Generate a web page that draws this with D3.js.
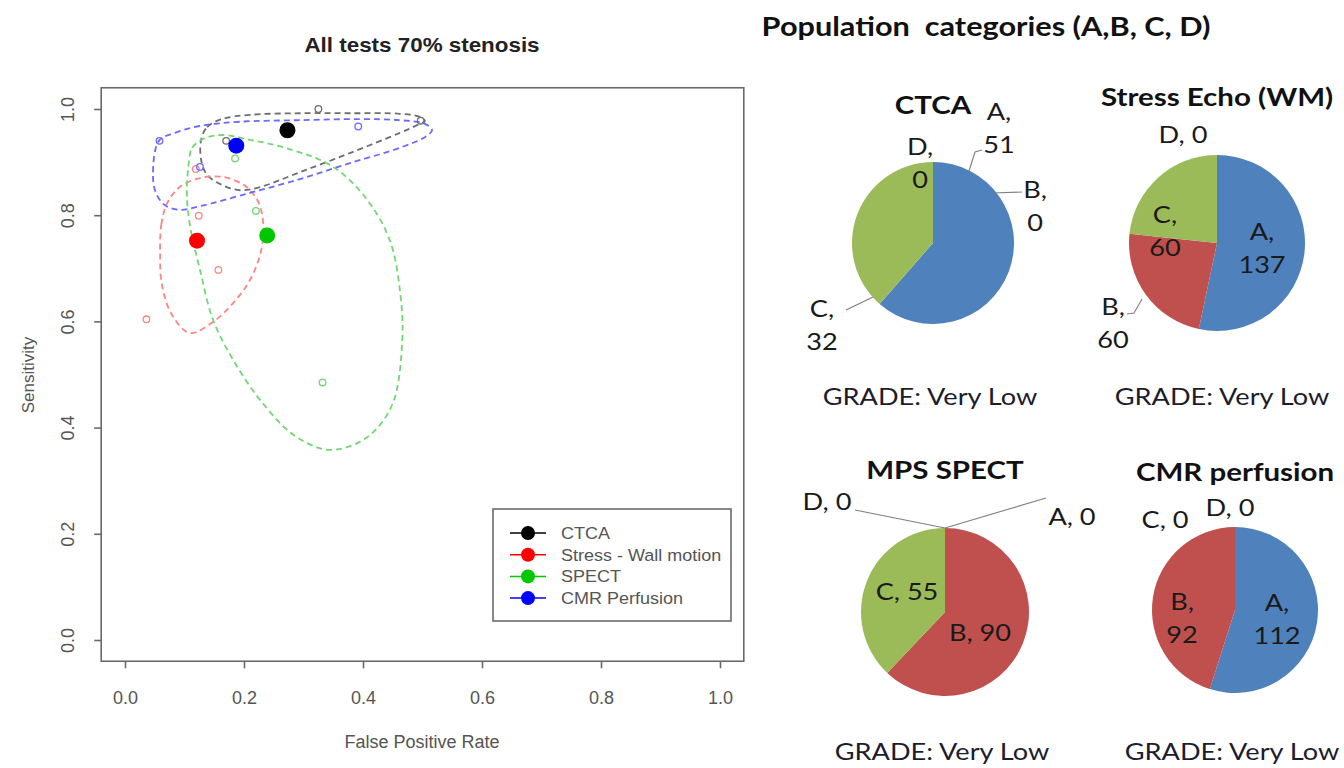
<!DOCTYPE html>
<html>
<head>
<meta charset="utf-8">
<script src="https://cdn.jsdelivr.net/npm/d3@7"></script>
<style>
  html, body { margin: 0; padding: 0; background: #fff; }
  svg { display: block; }
  text { white-space: pre; }
</style>
</head>
<body>
<svg id="chart" width="1344" height="768"></svg>
<script>
// ---------- ROC summary plot data ----------
const tests = ["CTCA", "Stress - Wall motion", "SPECT", "CMR Perfusion"];
const testColors = ["#000000", "#ff0000", "#00c800", "#0000ff"];
const regionColors = ["#6e6e6e", "#ff8585", "#72d872", "#6a6aff"];

// summary operating points (false positive rate, sensitivity)
const summaryFPR  = [0.273, 0.121, 0.239, 0.187];
const summarySens = [0.960, 0.752, 0.762, 0.931];

// individual studies
const studiesCTCA   = [[0.325, 1.000], [0.497, 0.978], [0.170, 0.940]];
const studiesStress = [[0.119, 0.887], [0.124, 0.799], [0.157, 0.697], [0.036, 0.604]];
const studiesSPECT  = [[0.185, 0.907], [0.220, 0.808], [0.332, 0.485]];
const studiesCMR    = [[0.058, 0.940], [0.392, 0.967], [0.126, 0.891]];

// 95% confidence regions
const regionCTCA = [[0.128,0.942],[0.138,0.966],[0.163,0.981],[0.210,0.989],[0.294,0.992],[0.378,0.992],
  [0.462,0.991],[0.496,0.985],[0.504,0.977],[0.492,0.970],[0.462,0.955],[0.378,0.917],[0.294,0.881],
  [0.227,0.853],[0.193,0.847],[0.163,0.857],[0.138,0.876],[0.128,0.904]];
const regionStress = [[0.059,0.729],[0.061,0.782],[0.071,0.823],[0.092,0.853],[0.126,0.870],[0.165,0.872],
  [0.202,0.855],[0.224,0.825],[0.232,0.787],[0.229,0.734],[0.210,0.678],[0.182,0.635],[0.148,0.599],
  [0.109,0.578],[0.079,0.612],[0.062,0.669]];
const regionSPECT = [[0.106,0.885],[0.113,0.927],[0.134,0.945],[0.163,0.951],[0.210,0.942],[0.269,0.927],
  [0.350,0.891],[0.407,0.829],[0.445,0.753],[0.462,0.659],[0.466,0.565],[0.449,0.443],[0.407,0.382],
  [0.345,0.358],[0.286,0.384],[0.230,0.448],[0.182,0.527],[0.148,0.603],[0.126,0.697],[0.109,0.782],
  [0.104,0.838]];
const regionCMR = [[0.057,0.940],[0.084,0.955],[0.126,0.968],[0.193,0.976],[0.294,0.979],[0.395,0.981],
  [0.462,0.979],[0.504,0.972],[0.516,0.960],[0.504,0.947],[0.462,0.927],[0.378,0.898],[0.294,0.868],
  [0.210,0.842],[0.126,0.817],[0.092,0.810],[0.067,0.819],[0.052,0.842],[0.047,0.876]];

const xTicks = [0, 0.2, 0.4, 0.6, 0.8, 1.0];
const xTickLabels = ["0.0", "0.2", "0.4", "0.6", "0.8", "1.0"];
const yTicks = [0, 0.2, 0.4, 0.6, 0.8, 1.0];
const yTickLabels = ["0.0", "0.2", "0.4", "0.6", "0.8", "1.0"];

// ---------- population category pies ----------
const categories = ["A", "B", "C", "D"];
const catColors = ["#4f81bd", "#c0504d", "#9bbb59", "#8064a2"];
const ctcaCounts   = [51, 0, 32, 0];
const stressCounts = [137, 60, 60, 0];
const spectCounts  = [0, 90, 55, 0];
const cmrCounts    = [112, 92, 0, 0];
const pieTitles = ["CTCA", "Stress Echo (WM)", "MPS SPECT", "CMR perfusion"];
const pieGrades = ["Very Low", "Very Low", "Very Low", "Very Low"];
const headline = "Population  categories (A,B, C, D)";

const svg = d3.select("#chart");
svg.append("rect").attr("width", 1344).attr("height", 768).attr("fill", "#fff");

// ================= left panel: ROC space =================
const rFont = "'Liberation Sans', Arial, Helvetica, sans-serif";
const xS = d3.scaleLinear().domain([0, 1]).range([125, 720]);
const yS = d3.scaleLinear().domain([0, 1]).range([640, 109]);
const plot = svg.append("g").attr("font-family", rFont);

const bx0 = xS(-0.04), bx1 = xS(1.04), by0 = yS(1.04), by1 = yS(-0.04);
plot.append("rect")
  .attr("x", bx0).attr("y", by0).attr("width", bx1 - bx0).attr("height", by1 - by0)
  .attr("fill", "none").attr("stroke", "#6a6a6a").attr("stroke-width", 1.6);

const xAxis = plot.append("g").attr("transform", `translate(0,${by1})`)
  .call(d3.axisBottom(xS).tickValues(xTicks).tickSize(7).tickPadding(23)
    .tickFormat((d, i) => xTickLabels[i]));
const yAxis = plot.append("g").attr("transform", `translate(${bx0},0)`)
  .call(d3.axisLeft(yS).tickValues(yTicks).tickSize(7)
    .tickFormat((d, i) => yTickLabels[i]));
[xAxis, yAxis].forEach(a => {
  a.select(".domain").remove();
  a.selectAll(".tick line").attr("stroke", "#6a6a6a").attr("stroke-width", 1.6);
  a.selectAll(".tick text").attr("fill", "#555").attr("font-size", 18).attr("font-family", rFont);
});
yAxis.selectAll(".tick text")
  .attr("transform", "rotate(-90)")
  .attr("x", 0).attr("y", -27).attr("dy", 0)
  .attr("text-anchor", "middle");

plot.append("text").attr("transform", "translate(422,52) scale(1.12,1)").attr("text-anchor", "middle")
  .attr("font-weight", "bold").attr("font-size", 20).attr("fill", "#222")
  .text("All tests 70% stenosis");
plot.append("text").attr("x", 422).attr("y", 748).attr("text-anchor", "middle")
  .attr("font-size", 18).attr("fill", "#555").text("False Positive Rate");
plot.append("text").attr("transform", "translate(34,375) rotate(-90)").attr("text-anchor", "middle")
  .attr("font-size", 17).attr("fill", "#555").text("Sensitivity");

// confidence regions
const regions = [regionCTCA, regionStress, regionSPECT, regionCMR];
const regionLine = d3.line().x(d => xS(d[0])).y(d => yS(d[1])).curve(d3.curveCatmullRomClosed.alpha(0.5));
plot.append("g").selectAll("path").data(regions).join("path")
  .attr("d", regionLine)
  .attr("fill", "none")
  .attr("stroke", (d, i) => regionColors[i])
  .attr("stroke-width", 1.8)
  .attr("stroke-dasharray", "6,4");

// study points
const studies = [studiesCTCA, studiesStress, studiesSPECT, studiesCMR];
studies.forEach((pts, i) => {
  plot.append("g").selectAll("circle").data(pts).join("circle")
    .attr("cx", d => xS(d[0])).attr("cy", d => yS(d[1])).attr("r", 3.3)
    .attr("fill", "none").attr("stroke", regionColors[i]).attr("stroke-width", 1.3);
});

// summary points
plot.append("g").selectAll("circle").data(tests).join("circle")
  .attr("cx", (d, i) => xS(summaryFPR[i])).attr("cy", (d, i) => yS(summarySens[i]))
  .attr("r", 8).attr("fill", (d, i) => testColors[i]);

// legend
const leg = plot.append("g");
leg.append("rect").attr("x", 493).attr("y", 509).attr("width", 238).attr("height", 112)
  .attr("fill", "#fff").attr("stroke", "#6a6a6a").attr("stroke-width", 1.6);
const legRows = leg.selectAll("g.row").data(tests).join("g")
  .attr("transform", (d, i) => `translate(0,${533 + i * 21.7})`);
legRows.append("line").attr("x1", 510).attr("x2", 546).attr("y1", 0).attr("y2", 0)
  .attr("stroke", (d, i) => testColors[i]).attr("stroke-width", 1.5);
legRows.append("circle").attr("cx", 528).attr("cy", 0).attr("r", 7)
  .attr("fill", (d, i) => testColors[i]);
legRows.append("text").attr("transform", "translate(561,6) scale(1.06,1)").attr("font-size", 17)
  .attr("fill", "#555").text(d => d);

// ================= right panel: category pies =================
const xlFont = "Lato, 'Open Sans', sans-serif";
const XS = 1.18; // horizontal text proportion of the office-style labels
const right = svg.append("g").attr("font-family", xlFont);

function xlText(parent, x, y, str, size, bold, fill) {
  return parent.append("text")
    .attr("transform", `translate(${x},${y}) scale(${XS},1)`)
    .attr("text-anchor", "middle")
    .attr("font-size", size)
    .attr("font-weight", bold ? "bold" : "normal")
    .attr("fill", fill)
    .text(str);
}

xlText(right, 986, 36, headline, 26, true, "#111");

const pies = [
  { counts: ctcaCounts, cx: 933, cy: 243, r: 81, titleY: 114, gradeX: 930, gradeY: 405,
    labels: [
      { cat: 0, split: true, dx: 66, dy: -131 },
      { cat: 1, split: true, dx: 102, dy: -53 },
      { cat: 2, split: true, dx: -111, dy: 66 },
      { cat: 3, split: true, dx: -13, dy: -96 }],
    leaders: [
      [[49, -93], [42, -91], [36, -72]],
      [[89, -51], [60, -50]],
      [[-87, 67], [-60, 54]]] },
  { counts: stressCounts, cx: 1217, cy: 243, r: 88, titleY: 106, gradeX: 1222, gradeY: 405,
    labels: [
      { cat: 0, split: true, dx: 45, dy: -11 },
      { cat: 1, split: true, dx: -104, dy: 64 },
      { cat: 2, split: true, dx: -52, dy: -28 },
      { cat: 3, split: false, dx: -34, dy: -108 }],
    leaders: [
      [[-90, 71], [-83, 70], [-75, 56]]] },
  { counts: spectCounts, cx: 945, cy: 612, r: 84, titleY: 479, gradeX: 942, gradeY: 760,
    labels: [
      { cat: 0, split: false, dx: 127, dy: -95 },
      { cat: 1, split: false, dx: 35, dy: 21 },
      { cat: 2, split: false, dx: -38, dy: -20 },
      { cat: 3, split: false, dx: -118, dy: -110 }],
    leaders: [
      [[-90, -102], [0, -84]],
      [[101, -114], [0, -84]]] },
  { counts: cmrCounts, cx: 1235, cy: 610, r: 83, titleY: 481, gradeX: 1232, gradeY: 760,
    labels: [
      { cat: 0, split: true, dx: 42, dy: -7 },
      { cat: 1, split: true, dx: -53, dy: -8 },
      { cat: 2, split: false, dx: -70, dy: -90 },
      { cat: 3, split: false, dx: -5, dy: -102 }],
    leaders: [] }
];

const pieGen = d3.pie().sort(null).value(d => d);
pies.forEach((p, k) => {
  const g = right.append("g").attr("transform", `translate(${p.cx},${p.cy})`);
  const arc = d3.arc().innerRadius(0).outerRadius(p.r);
  g.selectAll("path.slice").data(pieGen(p.counts)).join("path")
    .attr("class", "slice")
    .attr("d", arc)
    .attr("fill", (d, i) => catColors[i]);

  g.selectAll("polyline").data(p.leaders).join("polyline")
    .attr("points", d => d.map(q => q.join(",")).join(" "))
    .attr("fill", "none").attr("stroke", "#7f7f7f").attr("stroke-width", 1.1);

  p.labels.forEach(l => {
    const name = categories[l.cat], val = p.counts[l.cat];
    const lines = l.split ? [name + ",", String(val)] : [name + ", " + val];
    lines.forEach((s, j) => {
      xlText(g, l.dx, l.dy + j * 33 + 8, s, 23, false, "#1a1a1a");
    });
  });

  xlText(right, p.cx, p.titleY, pieTitles[k], 25, true, "#111");
  xlText(right, p.gradeX, p.gradeY, "GRADE: " + pieGrades[k], 23, false, "#1c1c2e");
});
</script>
</body>
</html>
